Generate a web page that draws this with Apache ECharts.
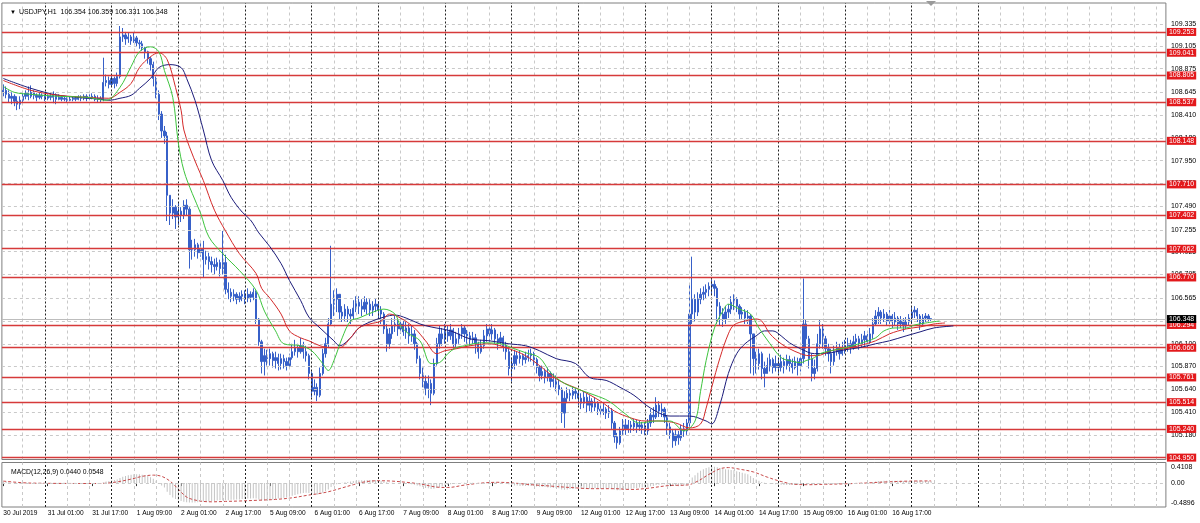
<!DOCTYPE html>
<html><head><meta charset="utf-8">
<script src="https://cdn.jsdelivr.net/npm/echarts@6/dist/echarts.min.js"></script>
<style>html,body{margin:0;padding:0;background:#fff}#c{width:1200px;height:523px}</style>
</head><body><div id="c"></div>
<script>
// ---------- DATA ----------
const symbolName = 'USDJPY,H1';
const lastBar = ['106.354', '106.359', '106.331', '106.348'];
const macdTitle = 'MACD(12,26,9) 0.0440 0.0548';
const firstOpen = 108.64;
const lastOpen = 106.354;
const bidPrice = 106.348;

const xTickLabels = ['30 Jul 2019','31 Jul 01:00','31 Jul 17:00','1 Aug 09:00','2 Aug 01:00','2 Aug 17:00','5 Aug 09:00','6 Aug 01:00','6 Aug 17:00','7 Aug 09:00','8 Aug 01:00','8 Aug 17:00','9 Aug 09:00','12 Aug 01:00','12 Aug 17:00','13 Aug 09:00','14 Aug 01:00','14 Aug 17:00','15 Aug 09:00','16 Aug 01:00','16 Aug 17:00'];
const barsPerLabel = 16;
const barsPerDay = 24;
const firstDayStart = 15;      // bar index of 31 Jul 00:00
const totalSlots = 419;        // bars incl. empty future area

const priceTicks = ['109.335','109.105','108.875','108.645','108.410','108.180','107.950','107.720','107.490','107.255','107.025','106.795','106.565','106.335','106.100','105.870','105.640','105.410','105.180'];
const levels = [109.253,109.041,108.805,108.537,108.148,107.710,107.402,107.062,106.770,106.294,106.060,105.761,105.514,105.240,104.950];
const macdTicks = ['0.4108','0.00','-0.4896'];

const closes = [
108.66,108.62,108.58,108.60,108.55,108.52,108.56,108.60,108.63,108.60,
108.64,108.61,108.59,108.61,108.60,108.58,108.60,108.59,108.61,108.57,
108.59,108.57,108.58,108.56,108.57,108.58,108.57,108.59,108.58,108.60,
108.58,108.59,108.60,108.57,108.58,108.57,108.74,108.76,108.72,108.78,
108.73,108.80,109.20,109.22,109.18,109.20,109.16,109.19,109.14,109.13,
109.09,109.05,108.98,108.92,108.78,108.62,108.42,108.25,108.20,107.60,
107.42,107.48,107.38,107.44,107.40,107.50,107.46,107.05,107.05,107.10,
107.02,107.06,106.95,106.98,106.93,106.90,106.88,106.92,106.86,106.92,
106.65,106.62,106.58,106.60,106.55,106.58,106.60,106.56,106.60,106.57,
106.62,106.35,106.12,105.92,105.98,105.95,106.00,105.93,105.96,105.90,
105.95,105.92,105.88,105.96,106.02,106.06,106.02,106.08,106.02,105.98,
105.80,105.62,105.66,105.58,105.80,106.00,106.10,106.30,106.50,106.55,
106.60,106.42,106.38,106.45,106.40,106.38,106.46,106.52,106.48,106.45,
106.52,106.50,106.44,106.48,106.50,106.44,106.40,106.25,106.10,106.20,
106.28,106.30,106.25,106.30,106.22,106.26,106.18,106.20,106.10,105.95,
105.80,105.72,105.65,105.70,105.60,105.90,106.10,106.20,106.15,106.22,
106.18,106.24,106.10,106.15,106.20,106.26,106.20,106.18,106.14,106.16,
106.10,106.02,106.08,106.18,106.25,106.20,106.24,106.15,106.12,106.16,
106.08,106.02,105.85,105.90,105.98,105.95,105.98,105.94,105.96,105.98,
106.00,105.94,105.86,105.78,105.82,105.76,105.80,105.72,105.74,105.68,
105.64,105.40,105.55,105.60,105.58,105.62,105.60,105.55,105.50,105.56,
105.48,105.52,105.46,105.50,105.44,105.42,105.44,105.40,105.42,105.30,
105.16,105.10,105.22,105.28,105.24,105.28,105.26,105.30,105.26,105.28,
105.25,105.22,105.30,105.38,105.36,105.48,105.42,105.44,105.36,105.26,
105.20,105.12,105.18,105.15,105.24,105.22,105.30,106.40,106.55,106.42,
106.55,106.60,106.62,106.65,106.68,106.70,106.66,106.48,106.40,106.35,
106.42,106.45,106.52,106.55,106.48,106.40,106.42,106.36,106.38,106.20,
105.95,105.90,106.00,105.85,105.80,105.88,105.94,105.86,105.90,105.86,
105.92,105.88,105.94,105.90,105.86,105.92,105.88,105.95,106.30,106.15,
105.95,105.80,105.85,106.10,106.25,106.15,106.05,106.00,105.92,106.02,
106.06,106.00,106.05,106.08,106.10,106.06,106.12,106.15,106.10,106.14,
106.18,106.12,106.20,106.30,106.38,106.42,106.36,106.40,106.33,106.38,
106.32,106.36,106.30,106.33,106.28,106.32,106.36,106.42,106.44,106.38,
106.30,106.36,106.38,106.35,106.348];

const highs = [
108.72,108.70,108.66,108.64,108.62,108.60,108.60,108.64,108.66,108.70,
108.71,108.66,108.63,108.64,108.63,108.62,108.62,108.63,108.65,108.63,
108.62,108.61,108.60,108.59,108.60,108.60,108.60,108.61,108.61,108.62,
108.62,108.62,108.63,108.62,108.61,108.60,108.99,108.82,108.80,108.82,
108.80,108.84,109.31,109.29,109.25,109.24,109.22,109.24,109.21,109.17,
109.16,109.10,109.06,109.00,108.95,108.80,108.66,108.45,108.30,108.24,
107.55,107.56,107.50,107.52,107.48,107.55,107.56,107.48,107.15,107.16,
107.12,107.14,107.14,107.04,107.02,106.98,106.96,106.97,106.95,107.24,
107.00,106.72,106.66,106.65,106.62,106.62,106.64,106.64,106.66,106.63,
106.66,106.64,106.36,106.14,106.05,106.04,106.05,106.02,106.02,106.00,
106.00,105.99,105.96,106.00,106.10,106.14,106.10,106.16,106.12,106.08,
106.00,105.82,105.74,105.70,105.86,106.05,106.16,106.36,107.09,106.64,
106.66,106.60,106.48,106.50,106.48,106.45,106.54,106.58,106.58,106.55,
106.58,106.56,106.55,106.53,106.56,106.53,106.48,106.42,106.30,106.26,
106.36,106.38,106.34,106.36,106.33,106.32,106.30,106.28,106.24,106.12,
105.98,105.86,105.78,105.78,105.74,105.95,106.16,106.28,106.26,106.30,
106.28,106.30,106.26,106.22,106.26,106.30,106.29,106.24,106.22,106.22,
106.20,106.12,106.14,106.24,106.30,106.30,106.30,106.26,106.20,106.22,
106.18,106.12,106.05,105.96,106.04,106.02,106.03,106.00,106.02,106.04,
106.05,106.02,105.96,105.88,105.88,105.85,105.86,105.82,105.80,105.78,
105.74,105.66,105.62,105.66,105.64,105.66,105.65,105.63,105.60,105.62,
105.60,105.58,105.55,105.56,105.52,105.48,105.50,105.46,105.48,105.45,
105.32,105.20,105.26,105.34,105.34,105.33,105.32,105.34,105.33,105.32,
105.31,105.30,105.34,105.44,105.46,105.56,105.52,105.50,105.46,105.38,
105.30,105.24,105.24,105.22,105.28,105.30,105.34,106.70,106.98,106.60,
106.62,106.66,106.68,106.70,106.72,106.75,106.74,106.68,106.52,106.46,
106.48,106.50,106.58,106.60,106.57,106.50,106.47,106.45,106.44,106.40,
106.12,106.02,106.05,106.02,105.92,105.96,106.00,105.96,105.98,105.95,
105.99,105.96,105.99,105.98,105.95,105.97,105.96,106.00,106.76,106.35,
106.18,106.00,105.94,106.20,106.34,106.30,106.18,106.10,106.05,106.08,
106.12,106.10,106.12,106.14,106.16,106.14,106.18,106.20,106.18,106.20,
106.23,106.20,106.26,106.36,106.44,106.47,106.44,106.45,106.42,106.44,
106.40,106.42,106.38,106.38,106.36,106.37,106.40,106.47,106.48,106.46,
106.40,106.40,106.41,106.40,106.359];

const lows = [
108.60,108.58,108.54,108.52,108.50,108.46,108.47,108.54,108.57,108.56,
108.58,108.57,108.55,108.57,108.57,108.55,108.56,108.56,108.53,108.52,
108.56,108.55,108.55,108.54,108.55,108.55,108.55,108.56,108.55,108.56,
108.55,108.56,108.57,108.55,108.54,108.54,108.55,108.70,108.68,108.70,
108.68,108.70,108.78,109.15,109.12,109.14,109.12,109.14,109.10,109.08,
109.06,108.98,108.93,108.86,108.70,108.58,108.36,108.18,108.12,107.34,
107.30,107.36,107.26,107.30,107.33,107.36,107.40,106.86,106.95,106.98,
106.96,106.98,106.77,106.90,106.85,106.82,106.80,106.84,106.78,106.80,
106.60,106.55,106.52,106.53,106.50,106.52,106.53,106.50,106.52,106.52,
106.54,106.30,106.08,105.80,105.78,105.88,105.88,105.86,105.85,105.83,
105.84,105.85,105.83,105.86,105.94,105.98,105.96,106.00,105.95,105.92,
105.74,105.56,105.58,105.52,105.56,105.78,105.96,106.06,106.28,106.38,
106.42,106.35,106.32,106.33,106.32,106.30,106.35,106.42,106.40,106.38,
106.42,106.40,106.38,106.38,106.42,106.36,106.30,106.20,106.02,106.05,
106.15,106.22,106.18,106.20,106.18,106.15,106.10,106.12,106.04,105.90,
105.74,105.66,105.58,105.55,105.48,105.58,105.88,106.05,106.08,106.10,
106.12,106.14,106.05,106.06,106.10,106.15,106.12,106.10,106.08,106.10,
106.00,105.95,106.00,106.05,106.12,106.12,106.14,106.10,106.04,106.08,
106.02,105.94,105.78,105.72,105.84,105.88,105.90,105.88,105.90,105.92,
105.92,105.88,105.80,105.72,105.74,105.70,105.72,105.66,105.66,105.62,
105.58,105.30,105.25,105.50,105.52,105.54,105.54,105.48,105.44,105.45,
105.40,105.42,105.40,105.42,105.38,105.36,105.38,105.34,105.35,105.24,
105.10,105.04,105.08,105.18,105.18,105.20,105.20,105.22,105.20,105.22,
105.19,105.18,105.18,105.26,105.30,105.34,105.36,105.36,105.30,105.18,
105.14,105.05,105.07,105.08,105.12,105.16,105.18,105.26,106.30,106.32,
106.38,106.50,106.54,106.56,106.58,106.60,106.58,106.30,106.28,106.27,
106.30,106.36,106.40,106.44,106.42,106.34,106.34,106.30,106.30,105.80,
105.78,105.80,105.84,105.74,105.66,105.80,105.82,105.80,105.82,105.80,
105.82,105.80,105.84,105.82,105.80,105.84,105.78,105.82,105.90,106.05,
105.85,105.72,105.74,105.82,106.05,106.05,105.98,105.92,105.80,105.88,
105.98,105.94,105.98,106.00,106.02,106.00,106.04,106.06,106.04,106.06,
106.08,106.06,106.10,106.15,106.28,106.30,106.30,106.32,106.28,106.30,
106.26,106.28,106.24,106.26,106.22,106.25,106.28,106.30,106.36,106.32,
106.24,106.28,106.32,106.31,106.331];

// Alligator lines: [bar index, price]
const lipsPoints = [[0,108.70],[4,108.64],[10,108.62],[20,108.60],[30,108.59],[37,108.56],[42,108.69],[46,108.90],[49,109.05],[53,109.10],[56,109.05],[58,108.86],[61,108.59],[63,108.13],[65,107.85],[68,107.62],[71,107.42],[74,107.18],[79,107.01],[85,106.84],[91,106.64],[94,106.43],[98,106.23],[101,106.10],[107,106.08],[111,106.03],[115,105.90],[117,105.83],[119,105.93],[122,106.16],[125,106.33],[128,106.36],[134,106.43],[137,106.45],[141,106.40],[143,106.28],[146,106.20],[150,106.13],[154,105.90],[157,105.91],[160,106.00],[163,106.06],[166,106.08],[172,106.11],[179,106.10],[183,106.06],[188,106.01],[193,105.96],[197,105.81],[202,105.70],[208,105.63],[213,105.58],[218,105.52],[224,105.39],[229,105.30],[235,105.32],[240,105.32],[245,105.22],[249,105.32],[251,105.62],[253,105.93],[256,106.26],[259,106.43],[261,106.50],[265,106.45],[269,106.40],[272,106.26],[276,106.10],[280,105.96],[283,105.93],[287,105.91],[289,105.93],[292,105.96],[294,106.00],[298,106.03],[303,106.06],[308,106.10],[314,106.16],[317,106.23],[321,106.26],[325,106.26],[328,106.29],[332,106.31],[337,106.33]];
const teethPoints = [[0,108.76],[10,108.66],[20,108.61],[30,108.59],[38,108.58],[42,108.64],[46,108.73],[49,108.89],[53,109.00],[56,109.04],[59,108.97],[62,108.69],[64,108.46],[65,108.26],[67,108.09],[70,107.88],[72,107.75],[76,107.45],[80,107.24],[85,107.01],[91,106.81],[93,106.66],[96,106.56],[100,106.40],[103,106.23],[107,106.16],[110,106.13],[114,106.08],[118,106.06],[121,106.06],[125,106.16],[128,106.26],[132,106.30],[136,106.33],[139,106.40],[143,106.36],[148,106.26],[152,106.13],[156,106.00],[159,106.03],[163,106.05],[168,106.08],[175,106.10],[182,106.05],[188,105.98],[193,105.88],[200,105.73],[208,105.63],[215,105.52],[220,105.42],[226,105.35],[231,105.32],[236,105.32],[242,105.30],[247,105.25],[251,105.29],[253,105.45],[255,105.66],[258,105.96],[261,106.20],[263,106.29],[267,106.33],[271,106.35],[273,106.33],[276,106.20],[280,106.10],[283,106.05],[287,106.00],[290,105.98],[293,105.98],[298,106.03],[303,106.05],[308,106.08],[314,106.13],[319,106.20],[325,106.25],[330,106.27],[335,106.30],[339,106.31]];
const jawPoints = [[0,108.78],[10,108.68],[20,108.61],[35,108.57],[38,108.56],[42,108.58],[46,108.61],[49,108.68],[53,108.78],[56,108.89],[60,108.92],[64,108.89],[66,108.78],[69,108.56],[72,108.26],[75,107.95],[79,107.75],[82,107.58],[86,107.43],[89,107.35],[92,107.22],[96,107.08],[100,106.91],[103,106.74],[107,106.54],[110,106.37],[114,106.26],[119,106.13],[121,106.08],[125,106.16],[128,106.26],[132,106.32],[137,106.37],[141,106.39],[145,106.36],[150,106.30],[154,106.27],[161,106.23],[168,106.15],[175,106.13],[182,106.10],[188,106.08],[193,106.03],[199,105.95],[206,105.90],[211,105.76],[217,105.73],[222,105.66],[227,105.58],[233,105.45],[240,105.37],[247,105.37],[253,105.32],[255,105.29],[258,105.49],[261,105.80],[264,106.00],[267,106.10],[271,106.18],[274,106.23],[277,106.23],[280,106.18],[283,106.11],[287,106.05],[292,106.00],[298,106.01],[303,106.04],[308,106.06],[314,106.10],[319,106.13],[325,106.18],[330,106.22],[335,106.26],[342,106.28]];

const macdMain = [
0.04,0.03,0.02,0.01,0.00,-0.01,-0.02,-0.01,0.00,0.01,
0.00,-0.01,-0.01,-0.01,-0.02,-0.02,-0.02,-0.02,-0.02,-0.02,
-0.02,-0.02,-0.02,-0.02,-0.02,-0.02,-0.02,-0.02,-0.01,-0.01,
-0.01,-0.01,-0.01,-0.01,-0.01,-0.01,
0.02,0.04,0.05,0.07,0.08,0.09,
0.13,0.16,0.18,0.20,0.21,0.22,0.22,0.22,0.21,0.20,0.18,
0.15,0.11,0.06,0.00,-0.06,-0.11,
-0.22,-0.30,-0.36,-0.40,-0.43,-0.45,-0.47,-0.48,-0.49,-0.49,-0.49,-0.48,
-0.47,-0.47,-0.46,-0.46,-0.45,-0.45,-0.44,-0.43,-0.43,-0.43,
-0.43,-0.42,-0.42,-0.41,-0.41,-0.40,-0.40,-0.39,-0.39,-0.38,
-0.39,-0.41,-0.43,-0.43,-0.43,-0.42,-0.41,-0.40,-0.39,-0.38,
-0.37,-0.36,-0.34,-0.32,-0.30,-0.28,-0.26,-0.25,-0.24,-0.25,
-0.27,-0.28,-0.29,-0.27,-0.24,-0.20,-0.16,-0.10,-0.06,-0.03,
-0.01,0.01,0.02,0.03,0.04,0.05,0.06,0.07,0.07,0.07,0.08,0.08,0.08,0.08,0.07,
0.06,0.04,0.02,0.01,0.01,0.00,0.00,0.00,-0.01,-0.01,-0.02,-0.03,-0.04,-0.06,-0.08,
-0.10,-0.12,-0.13,-0.15,-0.14,-0.12,-0.10,-0.08,-0.06,-0.05,
-0.03,-0.02,-0.01,0.00,0.01,0.01,0.01,0.01,0.01,0.00,
0.00,-0.01,0.00,0.01,0.02,0.02,0.02,0.01,0.01,0.00,-0.01,-0.03,
-0.05,-0.06,-0.06,-0.07,-0.07,-0.07,-0.07,-0.07,-0.07,-0.08,
-0.09,-0.10,-0.10,-0.11,-0.11,-0.12,-0.12,-0.13,-0.16,-0.17,-0.16,-0.15,-0.14,-0.14,
-0.14,-0.14,-0.14,-0.14,-0.14,-0.14,-0.13,-0.13,-0.13,-0.13,-0.13,-0.13,
-0.14,-0.16,-0.18,-0.18,-0.17,-0.16,-0.15,-0.14,-0.13,-0.12,-0.11,-0.11,
-0.11,-0.10,-0.08,-0.07,-0.05,-0.04,-0.03,-0.03,-0.04,-0.05,-0.07,-0.07,-0.08,-0.07,-0.06,-0.05,
0.04,0.14,0.20,0.26,0.31,0.35,0.38,0.40,0.41,0.41,0.40,0.38,0.36,0.35,
0.34,0.33,0.32,0.30,0.28,0.26,0.24,0.22,0.18,0.13,0.09,0.06,0.03,0.01,0.00,-0.01,-0.02,-0.03,
-0.04,-0.04,-0.05,-0.05,-0.05,-0.05,-0.05,-0.05,-0.05,-0.01,
0.00,-0.01,-0.03,-0.04,-0.02,0.00,0.00,-0.01,-0.02,-0.03,-0.02,-0.02,
-0.02,-0.01,-0.01,-0.01,0.00,0.00,0.00,0.01,0.01,0.01,
0.01,0.02,0.03,0.04,0.05,0.05,0.06,0.06,0.06,0.06,
0.06,0.06,0.06,0.05,0.05,0.05,0.05,0.06,0.06,0.06,
0.05,0.05,0.05,0.044];

const signalPoints = [[0,0.05],[10,0.0],[35,-0.01],[40,0.02],[46,0.10],[50,0.17],[54,0.20],[57,0.17],[60,0.05],[63,-0.15],[66,-0.35],[70,-0.44],[75,-0.47],[80,-0.46],[85,-0.45],[92,-0.43],[98,-0.41],[104,-0.37],[110,-0.30],[114,-0.26],[118,-0.20],[122,-0.12],[126,-0.04],[130,0.03],[135,0.06],[140,0.05],[145,0.02],[150,-0.02],[156,-0.10],[160,-0.11],[166,-0.05],[172,0.0],[178,0.02],[184,0.0],[190,-0.04],[196,-0.07],[204,-0.11],[212,-0.14],[220,-0.14],[226,-0.16],[232,-0.13],[240,-0.06],[246,-0.05],[250,0.05],[254,0.22],[258,0.36],[261,0.39],[265,0.35],[270,0.28],[275,0.15],[280,0.04],[285,-0.03],[290,-0.04],[296,-0.03],[302,-0.02],[310,0.0],[318,0.03],[326,0.05],[334,0.0548]];

// ---------- BUILD ----------
const FONT = 'Liberation Sans, Arial, sans-serif';
const cats = Array.from({length: totalSlots}, (_, i) => String(i));
const candleData = closes.map((c, i) => {
  const o = i === 0 ? firstOpen : (i === closes.length - 1 ? lastOpen : closes[i - 1]);
  return [o, c, Math.min(lows[i], o, c), Math.max(highs[i], o, c)];
});
const showLabel = (idx) => idx % barsPerLabel === 0 && idx / barsPerLabel < xTickLabels.length;

const lightV = [], darkV = [];
for (let i = firstDayStart - 8; i < totalSlots; i += 8) {
  const isDay = (i - firstDayStart) % barsPerDay === 0 && i >= firstDayStart;
  if (isDay && i <= closes.length + barsPerDay) darkV.push({xAxis: i});
  else lightV.push({xAxis: i});
}
const vLines = (xi, yi) => ([
  {type:'line', xAxisIndex:xi, yAxisIndex:yi, data:[], silent:true, z:1,
   markLine:{silent:true, symbol:['none','none'], animation:false, label:{show:false},
     lineStyle:{color:'#c9c9c9', width:1, type:[3,3]}, data: lightV}},
  {type:'line', xAxisIndex:xi, yAxisIndex:yi, data:[], silent:true, z:1,
   markLine:{silent:true, symbol:['none','none'], animation:false, label:{show:false},
     lineStyle:{color:'#222', width:1, type:[2,2]}, data: darkV}}
]);

const option = {
  animation: false,
  backgroundColor: '#ffffff',
  textStyle: {fontFamily: FONT},
  grid: [
    {left: 1.9, width: 1164, top: 3, height: 456.5, show: true, borderColor: '#7f7f7f', borderWidth: 1},
    {left: 1.9, width: 1164, top: 462.5, height: 44.5, show: true, borderColor: '#7f7f7f', borderWidth: 1}
  ],
  xAxis: [
    {type:'category', gridIndex:0, data:cats, boundaryGap:true, show:false},
    {type:'category', gridIndex:1, data:cats, boundaryGap:true,
     axisLine:{show:false},
     axisTick:{show:true, interval:showLabel, alignWithLabel:true, length:3, lineStyle:{color:'#333'}},
     axisLabel:{interval:showLabel, align:'left', margin:3, fontSize:6.6, color:'#000', fontFamily:FONT,
       formatter:(v, idx) => xTickLabels[idx / barsPerLabel] || ''},
     splitLine:{show:false}}
  ],
  yAxis: [
    {type:'value', gridIndex:0, min:104.931, max:109.5425, show:false, splitLine:{show:false}},
    {type:'value', gridIndex:1, min:-0.6005, max:0.5176, show:false, splitLine:{show:false}}
  ],
  title: [
    {text: '▼', left: 5, top: 4, textStyle:{fontSize:6, color:'#000', fontWeight:'normal', fontFamily:FONT}},
    {text: symbolName + '  ' + lastBar.join(' '), left: 14, top: 3.5, textStyle:{fontSize:7, color:'#000', fontWeight:'normal', fontFamily:FONT}},
    {text: macdTitle, left: 6, top: 464, textStyle:{fontSize:6.8, color:'#000', fontWeight:'normal', fontFamily:FONT}}
  ],
  graphic: [
    {type:'polygon', shape:{points:[[926,1],[936,1],[931,6]]}, style:{fill:'#9a9a9a'}, silent:true}
  ],
  series: [
    ...vLines(0, 0),
    ...vLines(1, 1),
    // horizontal price grid with tick labels
    {type:'line', xAxisIndex:0, yAxisIndex:0, data:[], silent:true, z:1,
     markLine:{silent:true, symbol:['none','none'], animation:false,
       lineStyle:{color:'#c9c9c9', width:1, type:[3,3]},
       label:{show:true, position:'end', distance:5, color:'#000', fontSize:7, fontFamily:FONT},
       data: priceTicks.map(t => ({yAxis: +t, label:{formatter: t}}))}},
    // MACD axis labels and zero grid
    {type:'line', xAxisIndex:1, yAxisIndex:1, data:[], silent:true, z:1,
     markLine:{silent:true, symbol:['none','none'], animation:false,
       label:{show:true, position:'end', distance:5, color:'#000', fontSize:7, fontFamily:FONT},
       data: macdTicks.map(t => ({yAxis: +t, label:{formatter: t},
         lineStyle: +t === 0 ? {color:'#c9c9c9', width:1, type:[3,3]} : {color:'rgba(255,255,255,0)', width:1}}))}},
    // red horizontal levels
    {type:'line', xAxisIndex:0, yAxisIndex:0, data:[], silent:true, z:2,
     markLine:{silent:true, symbol:['none','none'], animation:false,
       lineStyle:{color:'#d63a3a', width:1.3, type:'solid'},
       label:{show:true, position:'end', distance:1, color:'#fff', backgroundColor:'#e3191c',
         padding:[1,2,0,2], fontSize:7, fontFamily:FONT},
       data: levels.map(v => ({yAxis: v, label:{formatter: v.toFixed(3)}}))}},
    // bid line
    {type:'line', xAxisIndex:0, yAxisIndex:0, data:[], silent:true, z:3,
     markLine:{silent:true, symbol:['none','none'], animation:false,
       lineStyle:{color:'#bdbdbd', width:1, type:'solid'},
       label:{show:true, position:'end', distance:1, color:'#fff', backgroundColor:'#000',
         padding:[1,2,0,2], fontSize:7, fontFamily:FONT},
       data: [{yAxis: bidPrice, label:{formatter: bidPrice.toFixed(3)}}]}},
    // price bars
    {type:'candlestick', xAxisIndex:0, yAxisIndex:0, data:candleData, barWidth:1.8, silent:true, z:4,
     itemStyle:{color:'#3760c8', color0:'#3760c8', borderColor:'#3760c8', borderColor0:'#3760c8', borderWidth:1}},
    // alligator
    {type:'line', xAxisIndex:0, yAxisIndex:0, data:jawPoints, showSymbol:false, smooth:0.35, silent:true, z:5,
     lineStyle:{color:'#1c1c7a', width:1}},
    {type:'line', xAxisIndex:0, yAxisIndex:0, data:teethPoints, showSymbol:false, smooth:0.35, silent:true, z:5,
     lineStyle:{color:'#d42a2a', width:1}},
    {type:'line', xAxisIndex:0, yAxisIndex:0, data:lipsPoints, showSymbol:false, smooth:0.35, silent:true, z:5,
     lineStyle:{color:'#3ec43e', width:1}},
    // MACD
    {type:'bar', xAxisIndex:1, yAxisIndex:1, data:macdMain, barWidth:1, silent:true, z:3,
     itemStyle:{color:'#c4c4c4'}},
    {type:'line', xAxisIndex:1, yAxisIndex:1, data:signalPoints, showSymbol:false, smooth:0.35, silent:true, z:4,
     lineStyle:{color:'#c84a4a', width:1, type:[3,2]}}
  ]
};
const chart = echarts.init(document.getElementById('c'), null, {renderer:'canvas'});
chart.setOption(option);
</script>
</body></html>
